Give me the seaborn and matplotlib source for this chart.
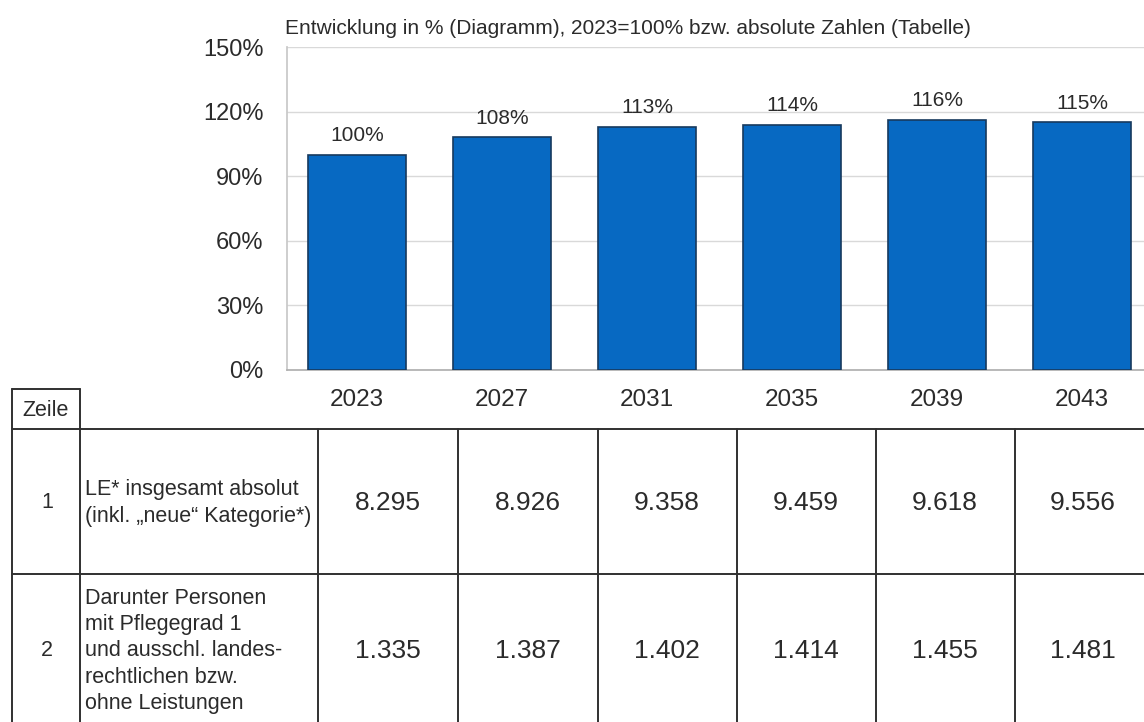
import matplotlib
matplotlib.use("Agg")
import matplotlib.pyplot as plt
import seaborn as sns
from matplotlib.ticker import FuncFormatter

# ---- data ----
years = ["2023", "2027", "2031", "2035", "2039", "2043"]
pct = [100, 108, 113, 114, 116, 115]
le_total = [8295, 8926, 9358, 9459, 9618, 9556]
pg1_only = [1335, 1387, 1402, 1414, 1455, 1481]
row_numbers = ["1", "2"]
row_labels = [
    "LE* insgesamt absolut\n(inkl. \u201eneue\u201c Kategorie*)",
    "Darunter Personen\nmit Pflegegrad 1\nund ausschl. landes-\nrechtlichen bzw.\nohne Leistungen",
]
title = "Entwicklung in % (Diagramm), 2023=100% bzw. absolute Zahlen (Tabelle)"
yticks = [0, 30, 60, 90, 120, 150]

sns.set_theme(style="white")
plt.rcParams["font.family"] = ["Liberation Sans", "DejaVu Sans"]

W, H = 1144, 722
fig = plt.figure(figsize=(W / 100, H / 100), dpi=100)
TXT = "#2b2b2b"

# chart axes in pixel layout
ax_l, ax_r, ax_top, ax_bot = 287, 1144, 47, 370
ax = fig.add_axes([ax_l / W, (H - ax_bot) / H, (ax_r - ax_l) / W, (ax_bot - ax_top) / H])

sns.barplot(x=years, y=pct, ax=ax, color="#0769c2", saturation=1, width=0.676,
            edgecolor="#17395e", linewidth=1.2, zorder=3)
ax.set_xlim(-0.483, 5.428)
ax.set_ylim(0, 150)
ax.set_yticks(yticks)
ax.yaxis.set_major_formatter(FuncFormatter(lambda v, p: f"{int(v)}%"))
ax.grid(axis="y", color="#d9d9d9", linewidth=1.0, zorder=0)
ax.set_xlabel("")
ax.set_ylabel("")
for s in ["top", "right"]:
    ax.spines[s].set_visible(False)
ax.spines["left"].set_color("#c8c8c8")
ax.spines["bottom"].set_color("#b0b0b0")
ax.tick_params(axis="y", length=0, pad=17, labelsize=17, labelcolor=TXT)
ax.tick_params(axis="x", length=0, pad=14, labelsize=17.5, labelcolor=TXT)
ax.bar_label(ax.containers[0], labels=[f"{v}%" for v in pct], padding=7,
             fontsize=15, color=TXT)
fig.text(285 / W, 1 - 28 / H, title, fontsize=15, color=TXT, ha="left", va="center")

# ---- table drawn in pixel coordinates ----
tab = fig.add_axes([0, 0, 1, 1])
tab.set_xlim(0, W)
tab.set_ylim(H, 0)
tab.axis("off")
tab.patch.set_alpha(0)
lc = "#303030"
lw = 1.4
col_edges = [318, 458, 598, 737, 876, 1015]
col_centers = [388, 528, 667, 806, 945, 1083]
# Zeile header box
tab.plot([12, 80], [389, 389], color=lc, lw=lw)
for x in [12, 80]:
    tab.plot([x, x], [389, H], color=lc, lw=lw)
for x in col_edges:
    tab.plot([x, x], [429, H], color=lc, lw=lw)
for y in [429, 574]:
    tab.plot([12, W], [y, y], color=lc, lw=lw)
tab.text(46, 410, "Zeile", fontsize=15.5, color=TXT, ha="center", va="center")

row_y = [503, 651]
for ry, num, lab in zip(row_y, row_numbers, row_labels):
    tab.text(47, ry, num, fontsize=15.5, color=TXT, ha="center", va="center")
    tab.text(85, ry, lab, fontsize=15.5, color=TXT, ha="left", va="center", linespacing=1.32)

def de(v):
    return f"{v:,}".replace(",", ".")

for ry, vals in zip(row_y, [le_total, pg1_only]):
    for cx, v in zip(col_centers, vals):
        tab.text(cx, ry, de(v), fontsize=19, color=TXT, ha="center", va="center")

fig.savefig("out.png", dpi=100, facecolor="white")
